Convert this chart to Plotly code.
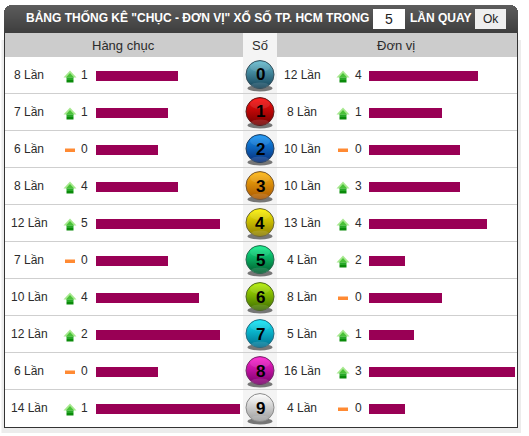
import plotly.graph_objects as go

W, H = 529, 436

digits = ["0", "1", "2", "3", "4", "5", "6", "7", "8", "9"]
tens_counts = [8, 7, 6, 8, 12, 7, 10, 12, 6, 14]
tens_changes = [1, 1, 0, 4, 5, 0, 4, 2, 0, 1]
units_counts = [12, 8, 10, 10, 13, 4, 8, 5, 16, 4]
units_changes = [4, 1, 0, 3, 4, 2, 0, 1, 3, 0]
ball_top = ["#123f55", "#700000", "#062c78", "#a85400", "#8a7a00",
            "#005a2c", "#3a6a00", "#006c8c", "#78006a", "#9a9a9a"]
ball_bottom = ["#66bcd0", "#ff0c0c", "#1496f8", "#ffb810", "#fff400",
               "#10f08c", "#b4f000", "#10e8f8", "#ff20d0", "#ffffff"]
ball_rim = ["#38505c", "#5a2020", "#28405f", "#74583a", "#6a663a",
            "#2a6a50", "#50682a", "#2a6c80", "#703068", "#8a8a8a"]

TITLE = 'BẢNG THỐNG KÊ "CHỤC - ĐƠN VỊ" XỔ SỐ TP. HCM TRONG'
FONT = "Liberation Sans, Arial, sans-serif"
TEXT = "#2b2b2b"
BAR = "#990055"

ROW_TOP, ROW_H = 56.5, 37
TENS_UNIT, UNITS_UNIT = 10.3, 9.095


def px(x):
    return x / W


def py(y):
    return 1 - y / H


def center(i):
    return ROW_TOP + ROW_H * (i + 0.5)


def blend(a, b, t):
    ca = [int(a[k:k + 2], 16) for k in (1, 3, 5)]
    cb = [int(b[k:k + 2], 16) for k in (1, 3, 5)]
    return "#" + "".join(f"{round(u + (v - u) * t):02x}" for u, v in zip(ca, cb))


def box(x0, y0, x1, y1, fill, layer="below", **kw):
    return dict(type="rect", xref="paper", yref="paper", x0=px(x0), x1=px(x1),
                y0=py(y0), y1=py(y1), fillcolor=fill, line=dict(width=0),
                layer=layer, **kw)


def oval(x0, y0, x1, y1, fill, layer="above", opacity=1.0):
    return dict(type="circle", xref="paper", yref="paper", x0=px(x0), x1=px(x1),
                y0=py(y0), y1=py(y1), fillcolor=fill, line=dict(width=0),
                layer=layer, opacity=opacity)


def poly(points, fill):
    d = "M" + " L".join(f"{px(x):.5f},{py(y):.5f}" for x, y in points) + " Z"
    return dict(type="path", xref="paper", yref="paper", path=d, fillcolor=fill,
                line=dict(width=0), layer="below")


def label(x, y, text, size=12, color=TEXT, bold=False, yref="paper"):
    return dict(xref="paper", yref=yref, x=px(x), y=y, text=f"<b>{text}</b>" if bold else text,
                showarrow=False, xanchor="center", yanchor="middle",
                font=dict(family=FONT, size=size, color=color))


fig = go.Figure()
rows = list(range(len(digits)))

fig.add_trace(go.Bar(x=tens_counts, y=rows, orientation="h", width=10 / ROW_H,
                     marker=dict(color=BAR, line=dict(width=0)), xaxis="x", yaxis="y",
                     hoverinfo="skip", showlegend=False))
fig.add_trace(go.Bar(x=units_counts, y=rows, orientation="h", width=10 / ROW_H,
                     marker=dict(color=BAR, line=dict(width=0)), xaxis="x2", yaxis="y",
                     hoverinfo="skip", showlegend=False))
fig.add_trace(go.Scatter(x=[260] * len(rows), y=[r - 0.012 for r in rows], mode="markers",
                         xaxis="x3", yaxis="y",
                         marker=dict(size=28, color=ball_bottom,
                                     gradient=dict(type="vertical", color=ball_top),
                                     line=dict(width=1, color=ball_rim)),
                         hoverinfo="skip", showlegend=False))

shapes = []
annotations = []

# card frame and panel
shapes.append(box(1.5, 40, 521, 433, "#ececec"))
shapes.append(box(4, 33, 518, 428, "#333333"))
shapes.append(box(5, 33, 517, 427, "#ffffff"))

# header band, rounded at the top corners
for row in range(5, 33):
    inset = {5: 5, 6: 3, 7: 2, 8: 1, 9: 1}.get(row, 0)
    shade = blend("#5c5c5c", "#3e3e3e", (row - 5) / 27)
    shapes.append(box(4 + inset, row, 518 - inset, row + 1, shade))

# column headers and the digit column
shapes.append(box(5, 33, 517, 57, "#cccccc"))
shapes.append(box(243, 33, 277, 57, "#f4f4f4"))
shapes.append(box(243, 57, 277, 427, "#f4f4f4"))
for i in rows[:-1]:
    y = ROW_TOP + ROW_H * (i + 1)
    shapes.append(box(5, y - 0.5, 517, y + 0.5, "#cfcfcf"))

# header controls
shapes.append(box(373, 9, 405, 29, "#ffffff"))
shapes.append(box(475, 9, 506, 29, "#efefef"))

annotations.append(label(197, py(18), TITLE, size=12, color="#ffffff", bold=True))
annotations.append(label(389, py(19.5), "5", size=14, color="#222222"))
annotations.append(label(440.5, py(18), "LẦN QUAY", size=12, color="#ffffff", bold=True))
annotations.append(label(490.5, py(19), "Ok", size=12, color="#222222"))
annotations.append(label(123.5, py(45), "Hàng chục", size=13))
annotations.append(label(260, py(45), "Số", size=13))
annotations.append(label(396, py(45), "Đơn vị", size=13))


def trend(xc, yc, change):
    if change == 0:
        shapes.append(box(xc - 5, yc - 0.5, xc + 5, yc + 3, "#ff8a33"))
        return
    shapes.append(poly([(xc, yc - 4.5), (xc + 6.5, yc + 2.5), (xc - 6.5, yc + 2.5)], "#a6e88e"))
    shapes.append(poly([(xc, yc - 2), (xc + 4, yc + 2.5), (xc - 4, yc + 2.5)], "#49c238"))
    shapes.append(box(xc - 3.5, yc + 2.5, xc + 3.5, yc + 5, "#27a827"))
    shapes.append(box(xc - 3.5, yc + 5, xc + 3.5, yc + 7.5, "#0a8a0a"))


for i in rows:
    yc = center(i)
    annotations.append(label(29, i, f"{tens_counts[i]} Lần", yref="y"))
    annotations.append(label(84.5, i, str(tens_changes[i]), yref="y"))
    annotations.append(label(302, i, f"{units_counts[i]} Lần", yref="y"))
    annotations.append(label(358, i, str(units_changes[i]), yref="y"))
    trend(70, yc, tens_changes[i])
    trend(343, yc, units_changes[i])

    # drop shadow, gloss and lower glow for each ball
    shapes.append(oval(247.5, yc + 10, 272.5, yc + 16.5, "#222222", layer="below", opacity=0.6))
    shapes.append(oval(251, yc + 7.5, 269, yc + 13, "#ffffff", opacity=0.12))
    shapes.append(oval(250, yc - 13, 270, yc - 3, "#ffffff", opacity=0.1))
    annotations.append(label(260, i, digits[i], size=17, color="#000000", bold=True, yref="y"))

hidden = dict(visible=False, fixedrange=True)
fig.update_layout(
    width=W, height=H, autosize=False,
    margin=dict(l=0, r=0, t=0, b=0),
    paper_bgcolor="#ffffff", plot_bgcolor="rgba(0,0,0,0)",
    showlegend=False, bargap=0,
    xaxis=dict(domain=[px(96), px(241)], range=[0, 145 / TENS_UNIT], anchor="y", **hidden),
    xaxis2=dict(domain=[px(369), px(515)], range=[0, 146 / UNITS_UNIT], anchor="y", **hidden),
    xaxis3=dict(domain=[0, 1], range=[0, W], anchor="y", **hidden),
    yaxis=dict(domain=[py(ROW_TOP + ROW_H * 10), py(ROW_TOP)], range=[9.5, -0.5], **hidden),
    shapes=shapes, annotations=annotations,
)
fig.write_html("out.html", config=dict(displayModeBar=False))
